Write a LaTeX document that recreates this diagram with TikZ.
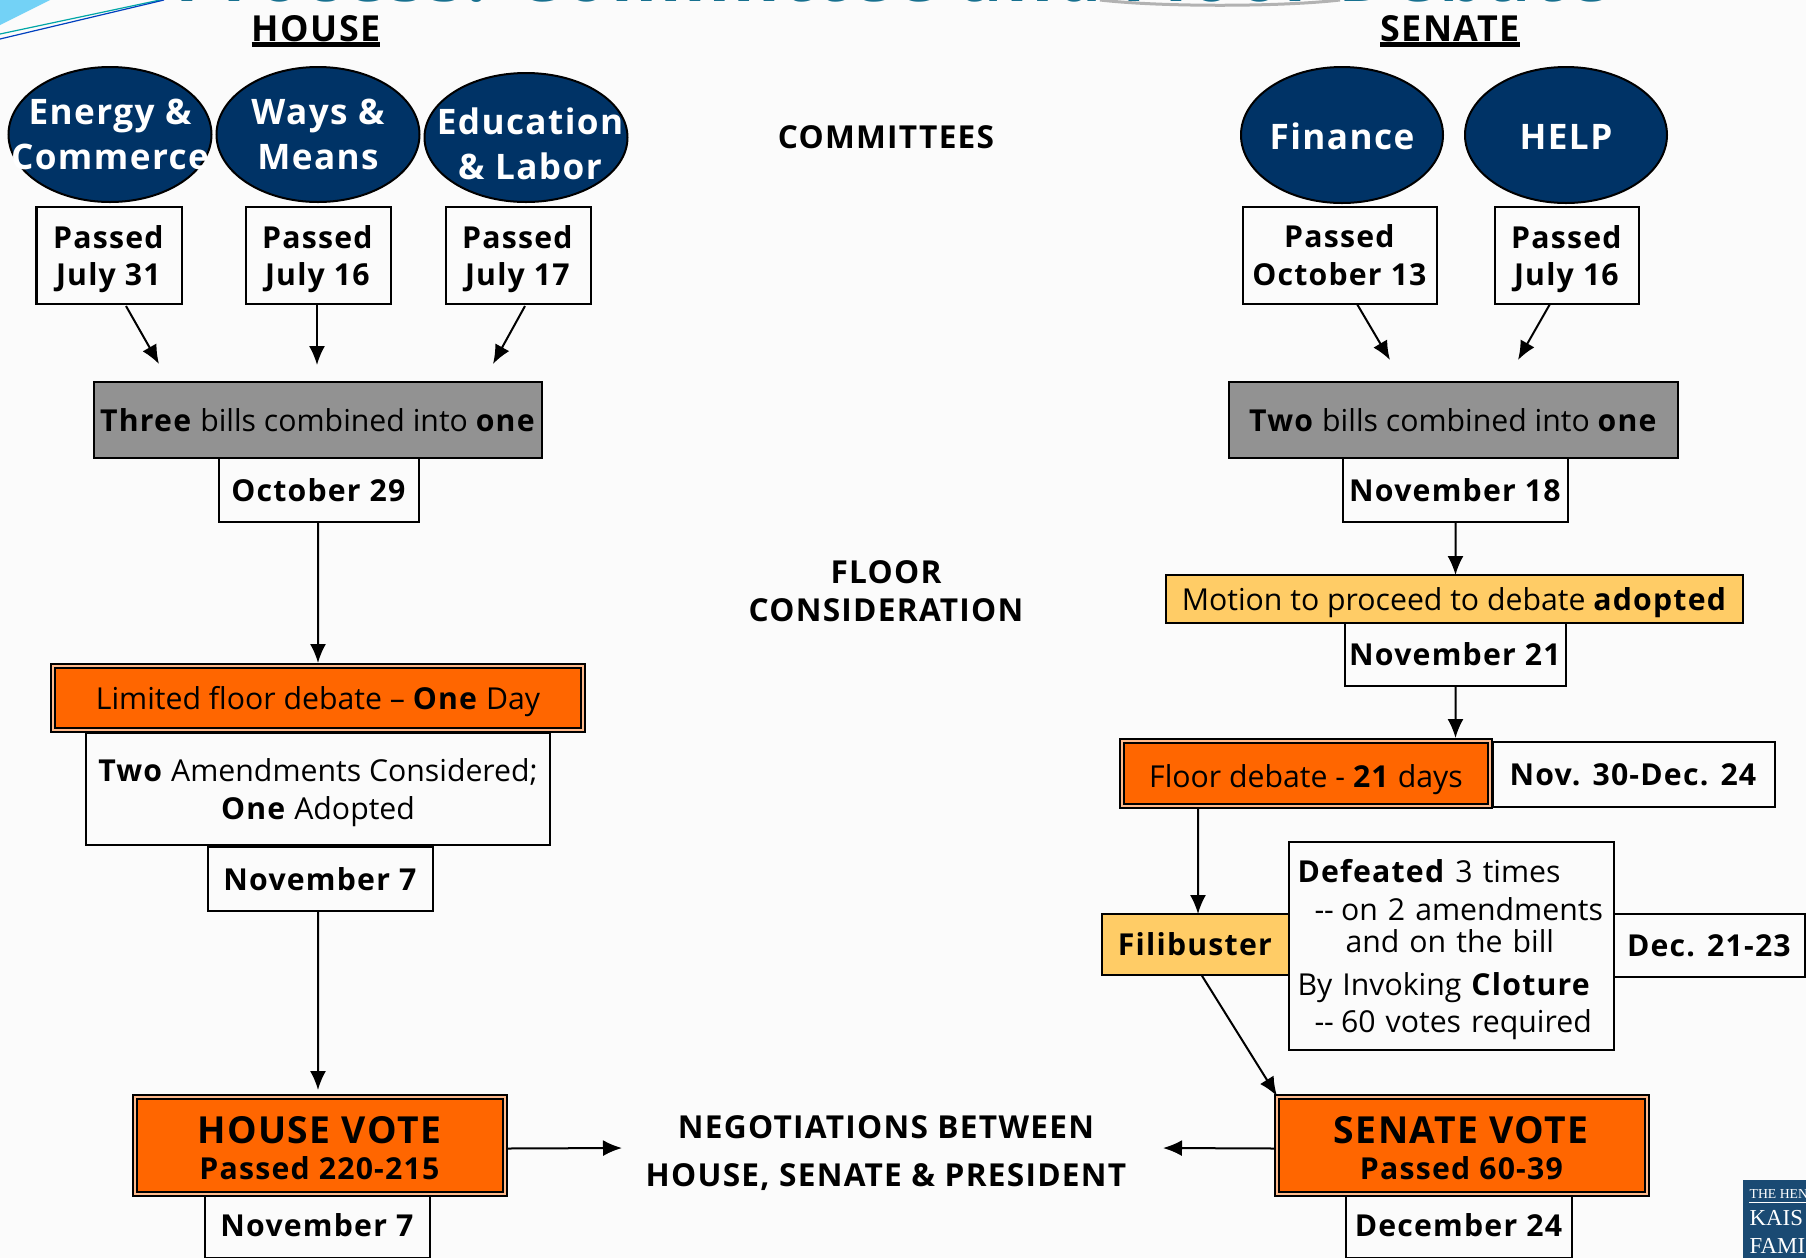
\documentclass[tikz,border=0pt]{standalone}
\usepackage{fontspec}
\setmainfont{Open Sans}[BoldFeatures={LetterSpace=4}]
\newfontfamily\logofont{Liberation Serif}
\usepackage{tikz}
\usetikzlibrary{positioning}
\usetikzlibrary{arrows.meta}
\usetikzlibrary{shapes.geometric}
\definecolor{pagecol}{HTML}{FBFBFB}
\definecolor{navycol}{HTML}{003366}
\definecolor{votecol}{HTML}{FF6600}
\definecolor{goldcol}{HTML}{FFCC66}
\definecolor{graycol}{HTML}{929292}
\definecolor{tealcol}{HTML}{17708F}
\definecolor{logocol}{HTML}{1A4A73}
\newcommand{\cl}[1]{\makebox[0pt]{#1}}
\newcommand{\nodp}[1]{\raisebox{0pt}[\height][0pt]{#1}}
\newcommand{\thickul}[1]{\setbox0\hbox{#1}\rlap{\rule[-0.055cm]{\wd0}{0.045cm}}\box0}
\newcommand{\bigfont}{\fontsize{10.2}{12}\selectfont}
\newcommand{\votefont}{\fontsize{10.6}{12}\selectfont}

\begin{document}
\begin{tikzpicture}[
	boxbase/.style={rectangle, inner sep=0pt, outer sep=0pt, align=center, line width=0.02cm, font=\fontsize{8.6}{10.8}\selectfont},
	datebox/.style={boxbase, draw=black, fill=pagecol},
	greybox/.style={boxbase, draw=black, fill=graycol},
	goldbox/.style={boxbase, draw=black, fill=goldcol},
	votebox/.style={boxbase, draw=black, fill=votecol, line width=0.025cm, double=votecol!45!white, double distance=0.018cm},
	oneline/.style={text depth=0pt},
	commnode/.style={ellipse, draw=black, fill=navycol, text=white, inner sep=0pt, outer sep=0pt, line width=0.02cm, align=center, font=\bfseries\fontsize{10}{12.8}\selectfont},
	plainlabel/.style={align=center, font=\bfseries\fontsize{9}{10.8}\selectfont},
	arrowline/.style={line width=0.02cm, -{Latex[length=0.19cm,width=0.16cm]}},
	]
	\useasboundingbox (0,0) rectangle (18.06,-12.58);
	\fill[pagecol] (0,0) rectangle (18.06,-12.58);

	%Top of the slide
	\fill[cyan!55!white] (0,0) -- (0.50,0) -- (0,-0.25) -- cycle;
	\draw[teal!70!cyan, line width=0.012cm] (0,-0.34) -- (1.60,0);
	\draw[blue!50!teal, line width=0.012cm] (0,-0.39) -- (1.64,0);
	\node[text=tealcol, font=\bfseries\fontsize{20.4}{24}\selectfont, anchor=base] (title) at (8.93,-0.01) {Process: Committee and Floor Debate};
	\draw[black!30, line width=0.03cm] (11.00,0) .. controls (11.60,-0.07) and (12.80,-0.07) .. (13.40,0);

	%Headings
	\node[font=\bfseries\bigfont, anchor=base] (house) at (3.16,-0.41) {\thickul{HOUSE}};
	\node[font=\bfseries\bigfont, anchor=base] (senate) at (14.50,-0.41) {\thickul{SENATE}};
	\node[plainlabel] (committees) at (8.86,-1.37) {COMMITTEES};
	\node[plainlabel] (floor) at (8.86,-5.91) {FLOOR\\CONSIDERATION};
	\node[plainlabel, font=\bfseries\fontsize{9}{13.7}\selectfont] (talks) at (8.86,-11.53) {NEGOTIATIONS BETWEEN\\HOUSE, SENATE \& PRESIDENT};

	%Committees
	\node[commnode, minimum width=2.03cm, minimum height=1.35cm] (energy) at (1.10,-1.345) {\cl{Energy \&}\\\cl{Commerce}};
	\node[commnode, minimum width=2.03cm, minimum height=1.35cm] (ways) at (3.18,-1.345) {\cl{Ways \&}\\\cl{Means}};
	\node[commnode, minimum width=2.03cm, minimum height=1.29cm] (labor) at (5.26,-1.375) {\cl{\hspace{0.08cm}\rule{0pt}{0.39cm}Education}\\\cl{\hspace{0.08cm}\& Labor}};
	\node[commnode, minimum width=2.02cm, minimum height=1.36cm] (finance) at (13.42,-1.35) {\cl{\rule{0pt}{0.29cm}Finance}};
	\node[commnode, minimum width=2.02cm, minimum height=1.36cm] (help) at (15.66,-1.35) {\cl{\rule{0pt}{0.29cm}HELP}};

	\node[datebox, minimum width=1.45cm, minimum height=0.97cm] (pass1) at (1.09,-2.555) {\textbf{Passed}\\\nodp{\textbf{July 31}}};
	\node[datebox, minimum width=1.45cm, minimum height=0.97cm] (pass2) at (3.18,-2.555) {\textbf{Passed}\\\nodp{\textbf{July 16}}};
	\node[datebox, minimum width=1.45cm, minimum height=0.97cm] (pass3) at (5.18,-2.555) {\textbf{Passed}\\\nodp{\textbf{July 17}}};
	\node[datebox, minimum width=1.94cm, minimum height=0.97cm] (pass4) at (13.40,-2.555) {\textbf{Passed}\\\textbf{October 13}};
	\node[datebox, minimum width=1.44cm, minimum height=0.97cm] (pass5) at (15.67,-2.555) {\textbf{Passed}\\\nodp{\textbf{July 16}}};

	%House column
	\node[greybox, oneline, minimum width=4.48cm, minimum height=0.76cm] (threebills) at (3.18,-4.20) {\textbf{Three} bills combined into \textbf{one}};
	\node[datebox, oneline, minimum width=2.00cm, minimum height=0.64cm] (oct29) at (3.19,-4.90) {\textbf{October 29}};
	\node[datebox, minimum width=4.64cm, minimum height=1.12cm] (amend) at (3.18,-7.89) {\textbf{Two} Amendments Considered;\\\nodp{\textbf{One} Adopted}};
	\node[votebox, oneline, minimum width=5.30cm, minimum height=0.64cm] (limited) at (3.18,-6.98) {Limited floor debate – \textbf{One} Day};
	\node[datebox, oneline, minimum width=2.25cm, minimum height=0.64cm] (nov7a) at (3.205,-8.79) {\textbf{November 7}};
	\node[datebox, oneline, minimum width=2.25cm, minimum height=0.65cm] (nov7b) at (3.175,-12.255) {\textbf{November 7}};
	\node[votebox, minimum width=3.70cm, minimum height=0.97cm] (housevote) at (3.20,-11.455) {\textbf{\votefont\rule{0pt}{0.33cm}HOUSE VOTE}\\[-0.02cm]\textbf{Passed 220-215}};

	%Senate column
	\node[greybox, oneline, minimum width=4.49cm, minimum height=0.76cm] (twobills) at (14.535,-4.20) {\textbf{Two} bills combined into \textbf{one}};
	\node[datebox, oneline, minimum width=2.25cm, minimum height=0.64cm] (nov18) at (14.555,-4.90) {\textbf{November 18}};
	\node[goldbox, oneline, minimum width=5.77cm, minimum height=0.48cm] (motion) at (14.545,-5.99) {Motion to proceed to debate \textbf{adopted}};
	\node[datebox, oneline, minimum width=2.21cm, minimum height=0.63cm] (nov21) at (14.555,-6.545) {\textbf{November 21}};
	\node[datebox, oneline, minimum width=2.82cm, minimum height=0.65cm] (nov30) at (16.335,-7.745) {\textbf{Nov. 30-Dec. 24}};
	\node[votebox, oneline, minimum width=3.68cm, minimum height=0.65cm] (floordebate) at (13.06,-7.735) {\rule{0pt}{0.27cm}Floor debate - \textbf{21} days};
	\node[goldbox, oneline, minimum width=1.87cm, minimum height=0.61cm] (filibuster) at (11.955,-9.445) {\textbf{Filibuster}};
	\node[datebox, oneline, minimum width=1.91cm, minimum height=0.63cm] (dec21) at (17.095,-9.455) {\textbf{Dec. 21-23}};
	\node[datebox, align=left, text width=3.08cm, inner xsep=0.085cm, minimum height=2.08cm] (defeated) at (14.515,-9.46) {\textbf{Defeated} 3 times\\\hspace*{0.17cm}-{}- \hspace*{-0.03cm}on 2 amendments\\[-0.06cm]\hspace*{0.48cm}and on the bill\\[0.05cm]By Invoking \textbf{Cloture}\\\hspace*{0.17cm}-{}- \hspace*{-0.03cm}\nodp{60 votes required}};
	\node[datebox, oneline, minimum width=2.26cm, minimum height=0.65cm] (dec24) at (14.59,-12.255) {\textbf{December 24}};
	\node[votebox, minimum width=3.70cm, minimum height=0.97cm] (senatevote) at (14.62,-11.455) {\textbf{\votefont\rule{0pt}{0.33cm}SENATE VOTE}\\[-0.02cm]\textbf{Passed 60-39}};

	%Logo
	\fill[logocol] (17.43,-11.80) rectangle (18.06,-12.58);
	\draw[white, line width=0.01cm] (17.49,-12.02) -- (18.06,-12.02);
	\node[text=white, font=\logofont\fontsize{3.9}{4}\selectfont, anchor=base west, inner sep=0pt] (logotop) at (17.49,-11.985) {THE HEN};
	\node[text=white, font=\logofont\fontsize{6.5}{9}\selectfont, anchor=base west, inner sep=0pt] (logomid) at (17.49,-12.25) {KAIS};
	\node[text=white, font=\logofont\fontsize{6.5}{9}\selectfont, anchor=base west, inner sep=0pt] (logolow) at (17.49,-12.53) {FAMI};

	%Free ends of the lines
	\coordinate (tip1) at (1.59,-3.64);
	\coordinate (tip2) at (3.17,-3.65);
	\coordinate (tip3) at (4.93,-3.64);
	\coordinate (tip4) at (13.90,-3.60);
	\coordinate (tip5) at (15.18,-3.60);
	\coordinate (tip6) at (6.22,-11.48);
	\coordinate (tip7) at (11.63,-11.48);

	%Lines
	\draw[arrowline] ([xshift=0.17cm,yshift=-0.02cm]pass1.south) -- (tip1);
	\draw[arrowline] ([xshift=-0.01cm]pass2.south) -- (tip2);
	\draw[arrowline] ([xshift=0.07cm,yshift=-0.02cm]pass3.south) -- (tip3);
	\draw[arrowline] ([xshift=0.17cm]pass4.south) -- (tip4);
	\draw[arrowline] ([xshift=-0.17cm]pass5.south) -- (tip5);
	\draw[arrowline] ([xshift=-0.01cm]oct29.south) -- ([yshift=0.03cm]limited.north);
	\draw[arrowline] ([xshift=-0.025cm]nov7a.south) -- ([xshift=-0.02cm,yshift=0.07cm]housevote.north);
	\draw[arrowline] (nov18.south) -- ([xshift=0.01cm]motion.north);
	\draw[arrowline] (nov21.south) -- ([xshift=1.495cm,yshift=0.03cm]floordebate.north);
	\draw[arrowline] ([xshift=-1.08cm,yshift=-0.03cm]floordebate.south) -- ([xshift=0.025cm]filibuster.north);
	\draw[arrowline] ([xshift=0.06cm]filibuster.south) -- ([yshift=0.01cm]senatevote.north west);
	\draw[arrowline] ([xshift=0.03cm,yshift=-0.03cm]housevote.east) -- (tip6);
	\draw[arrowline] ([yshift=-0.03cm,xshift=-0.03cm]senatevote.west) -- (tip7);
\end{tikzpicture}
\end{document}
